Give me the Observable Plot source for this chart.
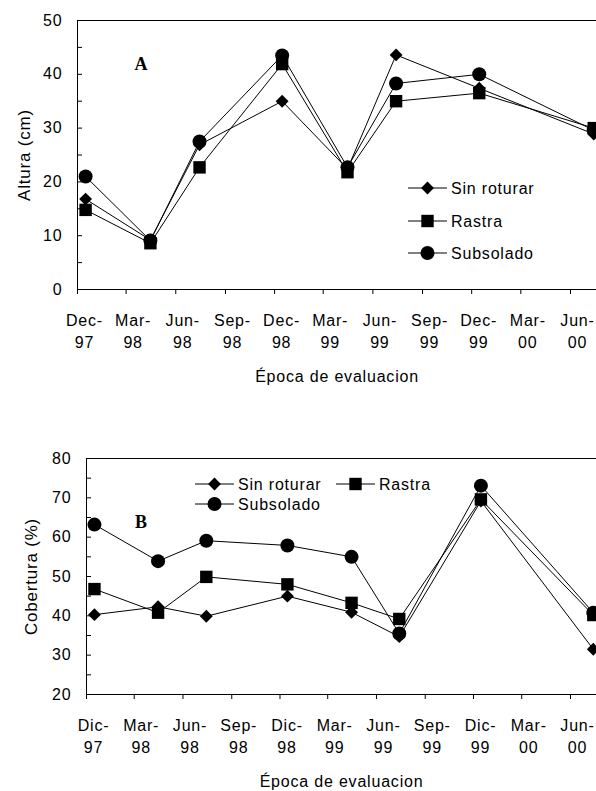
<!DOCTYPE html>
<html><head><meta charset="utf-8">
<script src="https://cdn.jsdelivr.net/npm/d3@7"></script>
<script src="https://cdn.jsdelivr.net/npm/@observablehq/plot@0.6"></script>
<style>
html,body{margin:0;padding:0;background:#fff;overflow:hidden;}
#chart{position:relative;width:596px;height:791px;}
#chart svg{display:block;}
</style></head><body><div id="chart"></div>
<script>
// ---- data ----
const seriesNames = ["Sin roturar", "Rastra", "Subsolado"];
const sampleDates = ["1997-12-16","1998-04-15","1998-07-15","1998-12-15","1999-04-15","1999-07-14","1999-12-15","2000-07-14"];

const alturaSinRoturar = [16.8, 9.2, 26.9, 35.0, 22.4, 43.6, 37.4, 28.9];
const alturaRastra     = [14.8, 8.6, 22.7, 41.9, 21.8, 35.0, 36.5, 30.0];
const alturaSubsolado  = [21.0, 9.1, 27.5, 43.5, 22.7, 38.3, 40.0, 29.6];

const coberturaSinRoturar = [40.3, 42.3, 39.9, 45.0, 40.9, 34.7, 69.2, 31.5];
const coberturaRastra     = [46.8, 40.8, 49.9, 48.0, 43.3, 39.2, 69.6, 40.2];
const coberturaSubsolado  = [63.2, 53.9, 59.1, 57.9, 55.0, 35.5, 73.1, 40.8];

const tickDates = ["1997-12-01","1998-03-01","1998-06-01","1998-09-01","1998-12-01","1999-03-01","1999-06-01","1999-09-01","1999-12-01","2000-03-01","2000-06-01"];
const tickLabelsA = ["Dec-\n97","Mar-\n98","Jun-\n98","Sep-\n98","Dec-\n98","Mar-\n99","Jun-\n99","Sep-\n99","Dec-\n99","Mar-\n00","Jun-\n00"];
const tickLabelsB = ["Dic-\n97","Mar-\n98","Jun-\n98","Sep-\n98","Dic-\n98","Mar-\n99","Jun-\n99","Sep-\n99","Dic-\n99","Mar-\n00","Jun-\n00"];

const yLabelsA = [0, 10, 20, 30, 40, 50];
const yMinorA  = [0, 5, 10, 15, 20, 25, 30, 35, 40, 45, 50];
const yLabelsB = [20, 30, 40, 50, 60, 70, 80];
const yMinorB  = [20, 25, 30, 35, 40, 45, 50, 55, 60, 65, 70, 75, 80];

const xTitle = "Época de evaluacion";
const yTitleA = "Altura (cm)";
const yTitleB = "Cobertura (%)";

// ---- helpers ----
const parse = d3.utcParse("%Y-%m-%d");
const symbols = {"Sin roturar": {name: "diamond2", sym: d3.symbolDiamond2, r: 5.8},
                 "Rastra": {name: "square", sym: d3.symbolSquare, r: 7},
                 "Subsolado": {name: "circle", sym: d3.symbolCircle, r: 7}};

function buildRows(arrs) {
  const rows = [];
  seriesNames.forEach((s, k) => arrs[k].forEach((v, i) => rows.push({series: s, date: parse(sampleDates[i]), value: v})));
  return rows;
}

const FONT = {fontFamily: "'Liberation Sans', Arial, sans-serif", fontSize: "16px", letterSpacing: "0.8px", background: "white", color: "black", overflow: "visible"};

function panel({rows, yDomain, yLabels, yMinor, yTitle, tickLabels, height, marginTop, marginBottom, marginLeft, yTitleDx}) {
  const ticks = tickDates.map(parse);
  const marks = [
    Plot.ruleY([yDomain[0]], {stroke: "black"}),
    Plot.ruleY([yDomain[1]], {stroke: "black"}),
    Plot.ruleX([ticks[0]], {stroke: "black"}),
    Plot.axisY({ticks: yMinor, tickSize: 5, fill: "none", dx: 5, label: null}),
    Plot.axisY({ticks: yLabels, tickSize: 0, tickPadding: 15, label: null, tickFormat: d => String(d)}),
    Plot.axisX({ticks: ticks, tickSize: 5, fill: "none", label: null}),
    Plot.text(ticks, {x: d => d, text: (d, i) => tickLabels[i], frameAnchor: "bottom", lineAnchor: "top", dy: 21, dx: 7, lineHeight: 1.375}),
    Plot.text([xTitle], {frameAnchor: "bottom", textAnchor: "middle", lineAnchor: "top", dy: 81}),
    Plot.text([yTitle], {frameAnchor: "left", textAnchor: "middle", lineAnchor: "middle", rotate: -90, dx: yTitleDx, fontSize: 17})
  ];
  seriesNames.forEach(s => {
    const sub = rows.filter(r => r.series === s);
    marks.push(Plot.line(sub, {x: "date", y: "value", stroke: "black", strokeWidth: 1}));
    marks.push(Plot.dot(sub, {x: "date", y: "value", symbol: () => symbols[s].name, r: symbols[s].r, fill: "black", stroke: "none"}));
  });
  return Plot.plot({
    width: 596, height, marginTop, marginBottom, marginLeft, marginRight: 0,
    style: FONT,
    x: {type: "utc", domain: [ticks[0], ticks[ticks.length - 1]], range: [marginLeft, 570], axis: null},
    y: {domain: yDomain, axis: null},
    symbol: {type: "identity"},
    marks
  });
}

function legend(svg, items, letter, letterPos) {
  const g = d3.select(svg).append("g").attr("text-anchor", "start");
  items.forEach(it => {
    g.append("line").attr("x1", it.x).attr("x2", it.x + 39).attr("y1", it.y).attr("y2", it.y).attr("stroke", "black");
    g.append("path").attr("d", d3.symbol(symbols[it.s].sym, Math.PI * symbols[it.s].r ** 2)())
      .attr("transform", `translate(${it.x + 19.5},${it.y})`).attr("fill", "black");
    g.append("text").attr("x", it.x + 43).attr("y", it.y).attr("dy", "0.35em").attr("text-anchor", "start").text(it.s);
  });
  g.append("text").attr("x", letterPos[0]).attr("y", letterPos[1]).attr("text-anchor", "middle")
    .attr("font-family", "'Liberation Serif', 'Times New Roman', serif").attr("font-weight", "bold")
    .attr("font-size", "18px").attr("letter-spacing", "0px").text(letter);
}

const chart = document.getElementById("chart");

const svgA = panel({rows: buildRows([alturaSinRoturar, alturaRastra, alturaSubsolado]), yDomain: [0, 50], yLabels: yLabelsA, yMinor: yMinorA,
  yTitle: yTitleA, tickLabels: tickLabelsA, height: 420, marginTop: 20, marginBottom: 131, marginLeft: 77, yTitleDx: -53});
legend(svgA, [{s: "Sin roturar", x: 408, y: 188}, {s: "Rastra", x: 408, y: 221}, {s: "Subsolado", x: 408, y: 253}], "A", [141, 70]);
chart.appendChild(svgA);

const svgB = panel({rows: buildRows([coberturaSinRoturar, coberturaRastra, coberturaSubsolado]), yDomain: [20, 80], yLabels: yLabelsB, yMinor: yMinorB,
  yTitle: yTitleB, tickLabels: tickLabelsB, height: 371, marginTop: 38, marginBottom: 97, marginLeft: 86, yTitleDx: -55});
legend(svgB, [{s: "Sin roturar", x: 195, y: 64}, {s: "Rastra", x: 336, y: 64}, {s: "Subsolado", x: 195, y: 84}], "B", [141, 108]);
chart.appendChild(svgB);
</script>
</body></html>
